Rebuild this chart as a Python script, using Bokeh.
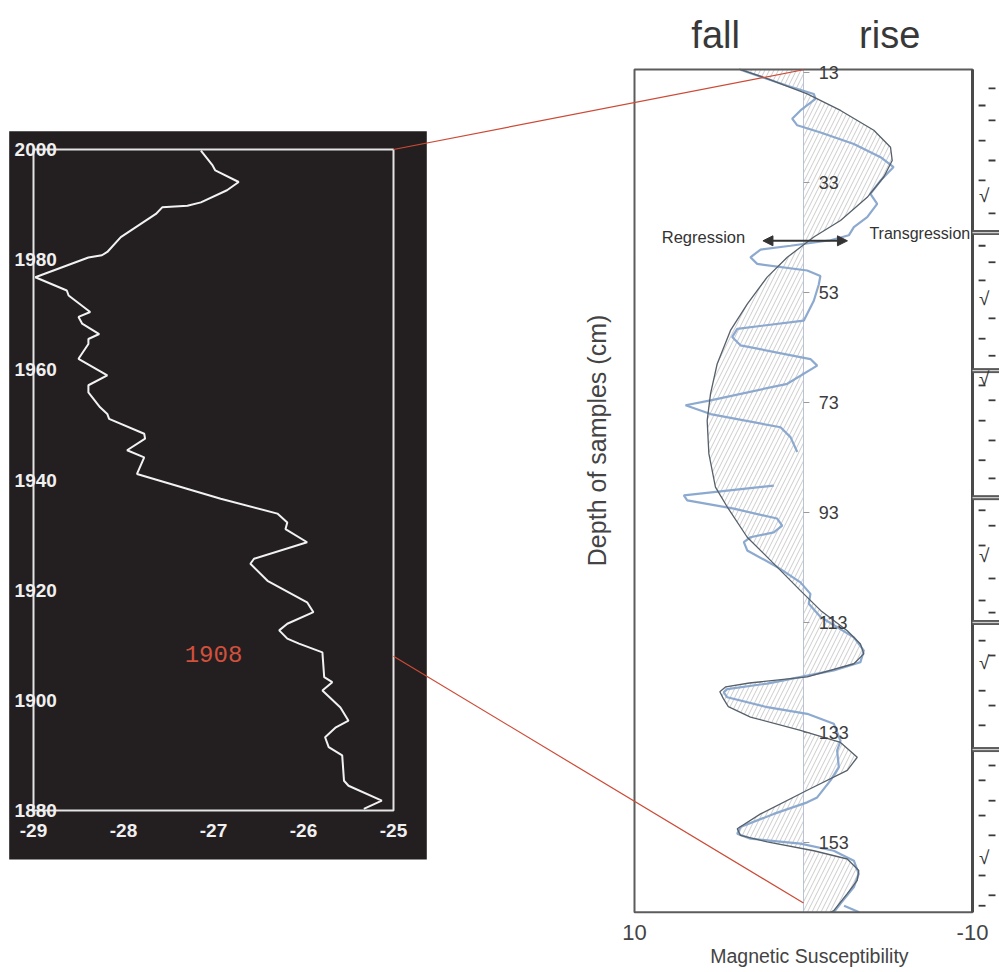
import math
from bokeh.plotting import figure
from bokeh.models import Range1d, Arrow, NormalHead
from bokeh.core.properties import value
from bokeh.embed import file_html
from bokeh.resources import INLINE

W, H = 999, 972

# ---------------- left panel: record vs year ----------------
left_year = [1999.8, 1997.1, 1996.2, 1994.1, 1992.6, 1990.4, 1989.8, 1989.5, 1988.3, 1984.1,
             1981.4, 1980.8, 1980.4, 1976.8, 1974.4, 1973.5, 1970.5, 1969.6, 1968.4, 1966.5,
             1965.6, 1964.7, 1962.0, 1959.0, 1957.2, 1955.9, 1953.2, 1952.0, 1951.1, 1948.4,
             1947.5, 1945.4, 1944.1, 1941.1, 1936.6, 1933.9, 1932.3, 1931.1, 1928.7, 1925.7,
             1924.8, 1921.7, 1917.8, 1916.0, 1913.9, 1912.7, 1911.2, 1910.3, 1908.7, 1904.2,
             1903.3, 1901.8, 1898.7, 1896.3, 1895.1, 1893.3, 1891.5, 1890.0, 1885.4, 1884.5,
             1881.8, 1880.3]
left_val = [-27.14, -27.01, -26.98, -26.72, -26.85, -27.14, -27.29, -27.57, -27.64, -28.03,
            -28.18, -28.24, -28.39, -28.98, -28.63, -28.61, -28.37, -28.50, -28.46, -28.27,
            -28.39, -28.39, -28.50, -28.18, -28.39, -28.39, -28.26, -28.18, -28.16, -27.77,
            -27.76, -27.96, -27.77, -27.85, -26.92, -26.29, -26.18, -26.20, -25.96, -26.55,
            -26.59, -26.40, -25.96, -25.89, -26.18, -26.27, -26.18, -26.05, -25.79, -25.77,
            -25.68, -25.79, -25.59, -25.50, -25.64, -25.76, -25.72, -25.57, -25.55, -25.50,
            -25.13, -25.33]
left_xticks = [-29, -28, -27, -26, -25]
left_yticks = [2000, 1980, 1960, 1940, 1920, 1900, 1880]
marker_year = 1908

# ---------------- right panel: magnetic susceptibility vs depth ----------------
fit_ms = [3.8, 2.15, -0.22, -2.19, -4.16, -5.15, -5.25, -4.75, -3.77, -2.19,
          -0.61, 0.96, 2.15, 3.33, 4.32, 5.11, 5.50, 5.70, 5.60, 5.21,
          4.51, 3.33, 1.76, 0.18, -1.01, -2.59, -3.37, -3.57, -2.98, -0.22,
          3.2, 4.6, 4.95, 4.75, 4.45, 3.14, 0.18, -2.19, -3.18, -2.59,
          -0.22, 2.54, 3.92, 3.73, 2.15, -0.61, -2.59, -3.27, -3.18, -2.59,
          -1.79, -1.6]
fit_depth = [12.4, 14.1, 16.9, 19.9, 23.5, 26.6, 29.0, 32.0, 35.7, 39.9,
             42.9, 46.6, 50.2, 55.1, 59.9, 66.0, 71.4, 76.3, 82.3, 88.4,
             92.0, 97.5, 102.3, 107.2, 110.8, 114.5, 116.9, 118.7, 120.5, 122.9,
             124.0, 124.7, 125.6, 126.8, 128.3, 130.2, 132.6, 134.8, 137.5, 139.9,
             143.5, 147.8, 150.5, 151.7, 152.9, 154.5, 156.0, 158.1, 159.9, 162.3,
             165.4, 165.7]

ms_a = [3.73, 0.96, -0.61, -0.71, 0.18, 0.67, 0.37, -1.01, -2.98, -4.56,
        -5.33, -4.6, -3.96, -4.36, -3.77, -2.98, -2.68, -1.6, 0.77, 2.54,
        3.14, 2.74, -0.22, -1.0, -0.9, -0.61, -0.02, 3.92, 4.22, 3.73,
        -0.41, -0.81, 0.96, 5.50, 6.98, 5.50, 1.36, 0.77, 0.37]
depth_a = [12.5, 15.4, 16.9, 17.8, 19.9, 21.4, 22.6, 23.9, 26.0, 28.4,
           30.2, 32.5, 35.05, 36.9, 39.3, 41.1, 42.6, 43.5, 44.5, 45.2,
           46.6, 47.8, 49.0, 50.0, 51.6, 54.5, 58.1, 59.6, 61.1, 62.6,
           65.1, 66.3, 69.6, 72.6, 73.5, 75.1, 77.5, 79.3, 82.0]
ms_b = [1.76, 7.08, 6.88, 4.12, 1.56, 1.26, 1.76, 3.14, 3.53, 3.33,
        1.56, 0.18, -0.41, -0.31, -1.01, -2.98, -3.57, -3.37, -1.79, 2.15,
        4.51, 4.72, 4.51, 2.15, -0.22, -1.79, -2.19, -1.99, -2.09, -1.60,
        -0.81, -0.22, 1.76, 3.73, 3.92, 3.14, 0.18, -1.79, -2.98, -3.27,
        -2.98, -2.19, -1.79]
depth_b = [88.1, 89.9, 90.8, 92.3, 94.1, 95.4, 96.6, 97.5, 98.4, 99.9,
           102.9, 105.7, 107.8, 109.6, 112.0, 115.7, 118.1, 120.2, 121.7, 124.1,
           125.1, 125.7, 126.6, 128.4, 129.6, 131.4, 134.5, 136.3, 139.3, 141.7,
           144.8, 145.7, 147.8, 150.2, 151.4, 152.3, 153.2, 154.5, 156.3, 158.7,
           161.1, 164.1, 165.7]
ms_c = [-2.4, -3.3]
depth_c = [164.5, 165.7]

depth_ticks = [13, 33, 53, 73, 93, 113, 133, 153]
ms_ticks = [10, -10]
depth_top, depth_bottom = 12.45, 165.7

# lithology column
litho_dash_depth = [15.9, 19.0, 21.7, 25.4, 29.0, 32.6, 38.6, 44.5, 47.5, 50.8,
                    57.7, 61.4, 64.5, 69.9, 72.6, 76.3, 79.9, 83.5, 86.8, 92.6,
                    95.4, 99.0, 105.0, 109.0, 111.2, 116.3, 119.0, 125.4, 128.1, 131.7,
                    139.0, 141.7, 145.4, 148.1, 151.7, 159.0, 162.6, 164.5]
litho_root_depth = [35.4, 54.1, 68.6, 100.8, 120.3, 155.7]
litho_bound_depth = [42.1, 67.2, 90.3, 113.0, 136.1]

# connectors: left (value, year) -> right (ms, depth)
conn_year = [2000, marker_year]
conn_depth = [12.5, 164.0]

# ---------------- ranges ----------------
def rng(v0, p0, v1, p1, size, flip=False):
    k = (v1 - v0) / (p1 - p0)
    a = v0 - k * p0
    b = v0 + k * (size - p0)
    return Range1d(start=b, end=a) if flip else Range1d(start=a, end=b)

lx = rng(-29, 33, -25, 393, W)
ly = rng(2000, 149, 1880, 810, H, flip=True)
rx = rng(10, 634, -10, 972, W)
ry = rng(13, 72, 153, 842, H, flip=True)

def cx(v, r):
    return (v - r.start) / (r.end - r.start) * W

def cy(v, r):
    return H - (v - r.start) / (r.end - r.start) * H

p = figure(width=W, height=H, x_range=Range1d(0, W), y_range=Range1d(H, 0),
           toolbar_location=None, output_backend="svg", min_border=0,
           x_axis_location=None, y_axis_location=None,
           outline_line_color=None, background_fill_color="white",
           border_fill_color="white")
p.grid.visible = False
p.extra_x_ranges = {"lx": lx, "rx": rx}
p.extra_y_ranges = {"ly": ly, "ry": ry}
L = dict(x_range_name="lx", y_range_name="ly")
R = dict(x_range_name="rx", y_range_name="ry")

SANS = value("Liberation Sans")

# ---- left panel ----
p.quad(left=[left_xticks[0] - 0.27], right=[left_xticks[-1] + 0.37],
       top=[left_yticks[0] + 3.3], bottom=[left_yticks[-1] - 8.9],
       fill_color="#231f20", line_color=None, **L)
p.quad(left=[left_xticks[0]], right=[left_xticks[-1]], top=[left_yticks[0]],
       bottom=[left_yticks[-1]], fill_color=None, line_color="#e4e4e4",
       line_width=2, **L)
p.line(left_val, left_year, line_color="#f2f2f2", line_width=2, **L)
p.text(x=[left_xticks[0] - 0.21] * len(left_yticks), y=left_yticks,
       text=[str(t) for t in left_yticks], text_align="left",
       text_baseline="middle", text_color="#f0f0f0", text_font=SANS,
       text_font_style="bold", text_font_size="19px", **L)
p.text(x=left_xticks, y=[1876.4] * len(left_xticks),
       text=[str(t) for t in left_xticks], text_align="center",
       text_baseline="middle", text_color="#f0f0f0", text_font=SANS,
       text_font_style="bold", text_font_size="19px", **L)
p.text(x=[-27.0], y=[marker_year + 0.5], text=[str(marker_year)],
       text_align="center", text_baseline="middle", text_color="#d2503c",
       text_font=value("Liberation Mono"), text_font_size="24px", **L)

# ---- right panel ----
p.harea(x1=[0] * len(fit_depth), x2=fit_ms, y=fit_depth, fill_color="white",
        fill_alpha=0, hatch_pattern="/", hatch_color="#c6c6c6",
        hatch_weight=0.9, hatch_scale=9, **R)
p.segment(x0=[0], y0=[depth_top], x1=[0], y1=[depth_bottom],
          line_color="#b8c4d4", line_width=1, **R)
p.segment(x0=[0] * len(depth_ticks), y0=depth_ticks,
          x1=[-0.35] * len(depth_ticks), y1=depth_ticks,
          line_color="#9a9a9a", line_width=1, **R)
p.line(ms_a, depth_a, line_color="#86a4cc", line_width=2.2, line_alpha=0.95, **R)
p.line(ms_b, depth_b, line_color="#86a4cc", line_width=2.2, line_alpha=0.95, **R)
p.line(ms_c, depth_c, line_color="#86a4cc", line_width=2.2, line_alpha=0.95, **R)
p.line(fit_ms, fit_depth, line_color="#56606a", line_width=1.3, **R)

p.quad(left=[ms_ticks[0]], right=[ms_ticks[1]], top=[depth_top],
       bottom=[depth_bottom], fill_color=None, line_color="#5c5c5c",
       line_width=2, **R)
p.segment(x0=[ms_ticks[1]], y0=[depth_top], x1=[ms_ticks[1]], y1=[depth_bottom],
          line_color="#4a4a4a", line_width=3, **R)

p.text(x=[-0.9] * len(depth_ticks), y=depth_ticks,
       text=[str(t) for t in depth_ticks], text_align="left",
       text_baseline="middle", text_color="#3c3c3c", text_font=SANS,
       text_font_size="18px", **R)
p.text(x=ms_ticks, y=[169.4] * 2, text=[str(t) for t in ms_ticks],
       text_align="center", text_baseline="middle", text_color="#444444",
       text_font=SANS, text_font_size="22px", **R)
p.text(x=[-0.35], y=[173.6], text=["Magnetic Susceptibility"],
       text_align="center", text_baseline="middle", text_color="#444444",
       text_font=SANS, text_font_size="19.5px", **R)
p.text(x=[12.2], y=[79.9], text=["Depth of samples (cm)"], angle=math.pi / 2,
       text_align="center", text_baseline="middle", text_color="#444444",
       text_font=SANS, text_font_size="25px", **R)
p.text(x=[5.2, -5.1], y=[6.1, 6.1], text=["fall", "rise"], text_align="center",
       text_baseline="middle", text_color="#383838", text_font=SANS,
       text_font_size="38px", **R)
p.text(x=[3.45], y=[42.9], text=["Regression"], text_align="right",
       text_baseline="middle", text_color="#333333", text_font=SANS,
       text_font_size="16.5px", **R)
p.text(x=[-3.9], y=[42.2], text=["Transgression"], text_align="left",
       text_baseline="middle", text_color="#333333", text_font=SANS,
       text_font_size="16px", **R)
p.add_layout(Arrow(x_start=2.4, y_start=43.6, x_end=-2.6, y_end=43.6,
                   start=NormalHead(size=10, fill_color="#333333", line_color="#333333"),
                   end=NormalHead(size=10, fill_color="#333333", line_color="#333333"),
                   line_color="#333333", line_width=2, **R))

# lithology column
n = len(litho_dash_depth)
col_x0 = [-10.36 if i % 2 else -10.95 for i in range(n)]
col_x1 = [-10.77 if i % 2 else -11.36 for i in range(n)]
p.segment(x0=col_x0, y0=litho_dash_depth, x1=col_x1, y1=litho_dash_depth,
          line_color="#3a3a3a", line_width=1.8, **R)
p.segment(x0=[-10.0] * len(litho_bound_depth), y0=litho_bound_depth,
          x1=[-11.7] * len(litho_bound_depth), y1=litho_bound_depth,
          line_color="#5a5a5a", line_width=5, **R)
p.segment(x0=[-10.0] * len(litho_bound_depth), y0=litho_bound_depth,
          x1=[-11.7] * len(litho_bound_depth), y1=litho_bound_depth,
          line_color="#cfcfcf", line_width=1.2, **R)
p.text(x=[-10.7] * len(litho_root_depth), y=litho_root_depth,
       text=["\u221a"] * len(litho_root_depth), text_align="center",
       text_baseline="middle", text_color="#333333", text_font=SANS,
       text_font_size="19px", **R)

# connector lines between panels
p.segment(x0=[cx(left_xticks[-1], lx)] * 2, y0=[cy(v, ly) for v in conn_year],
          x1=[cx(0, rx)] * 2, y1=[cy(d, ry) for d in conn_depth],
          line_color="#cc4a36", line_width=1.2)

open("out.html", "w").write(file_html(p, INLINE))
